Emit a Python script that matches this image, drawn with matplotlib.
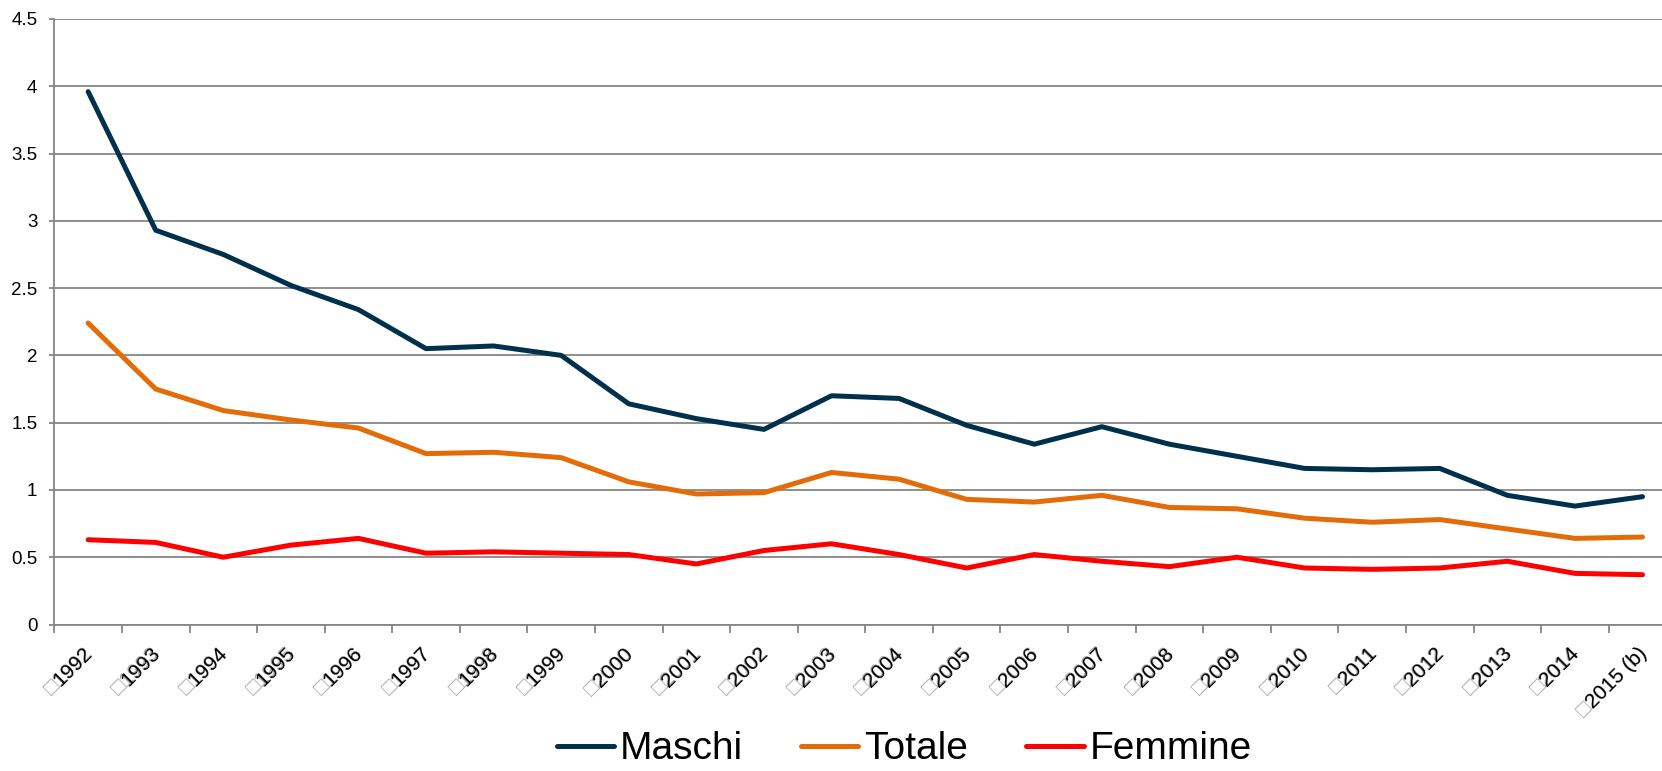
import matplotlib
matplotlib.use('Agg')
import matplotlib.pyplot as plt
import matplotlib.transforms as mtransforms
import numpy as np

plt.rcParams['font.family'] = ['Liberation Sans', 'DejaVu Sans']

years = ['1992', '1993', '1994', '1995', '1996', '1997', '1998', '1999',
         '2000', '2001', '2002', '2003', '2004', '2005', '2006', '2007',
         '2008', '2009', '2010', '2011', '2012', '2013', '2014', '2015 (b)']

maschi = [3.96, 2.93, 2.75, 2.52, 2.34, 2.05, 2.07, 2.00,
          1.64, 1.53, 1.45, 1.70, 1.68, 1.48, 1.34, 1.47,
          1.34, 1.25, 1.16, 1.15, 1.16, 0.96, 0.88, 0.95]
totale = [2.24, 1.75, 1.59, 1.52, 1.46, 1.27, 1.28, 1.24,
          1.06, 0.97, 0.98, 1.13, 1.08, 0.93, 0.91, 0.96,
          0.87, 0.86, 0.79, 0.76, 0.78, 0.71, 0.64, 0.65]
femmine = [0.63, 0.61, 0.50, 0.59, 0.64, 0.53, 0.54, 0.53,
           0.52, 0.45, 0.55, 0.60, 0.52, 0.42, 0.52, 0.47,
           0.43, 0.50, 0.42, 0.41, 0.42, 0.47, 0.38, 0.37]

y_ticks = [0, 0.5, 1, 1.5, 2, 2.5, 3, 3.5, 4, 4.5]

grey = '#868686'

fig = plt.figure(figsize=(16.62, 7.71), dpi=100)
# axis runs slightly past the right edge, as in the original
ax = fig.add_axes([0.0327, 0.19, 0.9759, 0.7854])

x = np.arange(len(years))
lw = 3.6
ax.plot(x, maschi, color='#00314C', lw=lw, label='Maschi',
        solid_capstyle='round', solid_joinstyle='round')
ax.plot(x, totale, color='#E36C09', lw=lw, label='Totale',
        solid_capstyle='round', solid_joinstyle='round')
ax.plot(x, femmine, color='#FF0000', lw=lw, label='Femmine',
        solid_capstyle='round', solid_joinstyle='round')

ax.set_xlim(-0.5, len(years) - 0.5)
ax.set_ylim(0, 4.5)

ax.set_yticks(y_ticks)
ax.set_yticklabels([f'{v:g}' for v in y_ticks])
ax.yaxis.grid(True, color=grey, lw=1.3)
ax.set_axisbelow(True)

# boundaries get the tick marks, the labels sit at the category centres
ax.set_xticks([])
ax.set_xticks(np.arange(-0.5, len(years), 1), minor=True)
ax.tick_params(axis='x', which='minor', length=5.5, width=1.3, color=grey)
ax.tick_params(axis='y', length=3.8, width=1.3, color=grey, pad=8.5,
               labelsize=13.5)

# year labels: grey box glyph underneath, black year on top, same anchor
lab_trans = ax.get_xaxis_transform() + mtransforms.ScaledTranslation(
    8 / 100, -14 / 72, fig.dpi_scale_trans)
for xi, yr in zip(x, years):
    ax.text(xi, 0, '\u25a1' + yr, transform=lab_trans, rotation=45,
            ha='right', va='top', fontsize=15, color='#A6A6A6',
            clip_on=False, zorder=3)
    ax.text(xi, 0, yr, transform=lab_trans, rotation=45,
            ha='right', va='top', fontsize=15, color='black',
            clip_on=False, zorder=4)

for side in ['top', 'right']:
    ax.spines[side].set_visible(False)
for side in ['left', 'bottom']:
    ax.spines[side].set_color(grey)
    ax.spines[side].set_linewidth(1.3)

fig.legend(loc='center', bbox_to_anchor=(0.544, 0.028), ncol=3,
           frameon=False, fontsize=28, handlelength=1.47,
           handletextpad=0.15, columnspacing=1.5, borderpad=0)

fig.savefig('out.png', dpi=100)
